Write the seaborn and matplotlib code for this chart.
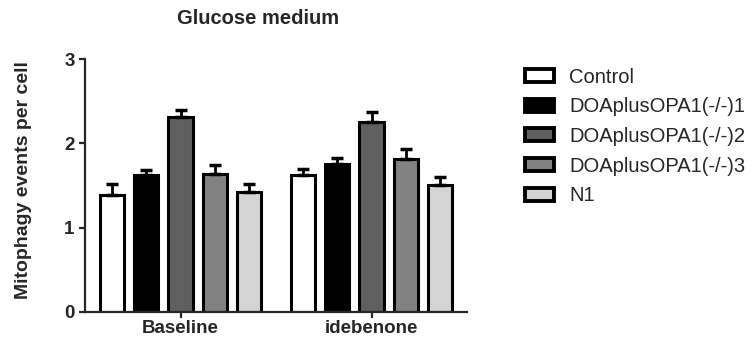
import pandas as pd
import numpy as np
import seaborn as sns
import matplotlib.pyplot as plt

# values
conditions = ['Baseline', 'idebenone']
cell_lines = ['Control', 'DOAplusOPA1(-/-)1', 'DOAplusOPA1(-/-)2', 'DOAplusOPA1(-/-)3', 'N1']
baseline_means = [1.39, 1.63, 2.31, 1.64, 1.42]
baseline_sem = [0.13, 0.05, 0.09, 0.10, 0.10]
idebenone_means = [1.62, 1.76, 2.25, 1.82, 1.51]
idebenone_sem = [0.08, 0.07, 0.12, 0.11, 0.09]
bar_colors = ['#ffffff', '#000000', '#5f5f5f', '#828282', '#d4d4d4']

rows = []
for cond, means, sems in [('Baseline', baseline_means, baseline_sem),
                          ('idebenone', idebenone_means, idebenone_sem)]:
    for line, m, s in zip(cell_lines, means, sems):
        rows.append({'condition': cond, 'line': line, 'mean': m, 'sem': s})
df = pd.DataFrame(rows)

sns.set_style('ticks')
plt.rcParams['font.family'] = ['Liberation Sans', 'DejaVu Sans']

fig = plt.figure(figsize=(7.53, 3.4), dpi=100)
ax = fig.add_axes([85 / 753, 1 - 312 / 340, (467 - 85) / 753, (312 - 59) / 340])

sns.barplot(data=df, x='condition', y='mean', hue='line', order=conditions,
            hue_order=cell_lines, palette=bar_colors, width=0.9, gap=0.3,
            edgecolor='black', linewidth=2.2, errorbar=None, ax=ax)

# upper-only error bars on top of each bar (patches come hue level by hue level)
order_key = {v: i for i, v in enumerate(cell_lines + conditions)}
df_sorted = df.sort_values(by=['line', 'condition'], key=lambda c: c.map(order_key))
for patch, (_, r) in zip(ax.patches, df_sorted.iterrows()):
    xc = patch.get_x() + patch.get_width() / 2
    ax.errorbar(xc, r['mean'], yerr=[[0], [r['sem']]], fmt='none', ecolor='black',
                elinewidth=2, capsize=4, capthick=2.5, zorder=1)

ax.set_xlim(-0.5, 1.5)
ax.set_ylim(0, 3)
ax.set_yticks([0, 1, 2, 3])
ax.set_xlabel('')
ax.set_ylabel('Mitophagy events per cell', fontsize=14, fontweight='bold', labelpad=23)
ax.yaxis.label.set_y(0.52)
sns.despine(ax=ax)
for side in ['left', 'bottom']:
    ax.spines[side].set_linewidth(1.6)
ax.tick_params(axis='both', width=1.6, length=4, labelsize=13.5)
ax.tick_params(axis='x', pad=2)
for lbl in ax.get_xticklabels() + ax.get_yticklabels():
    lbl.set_fontweight('bold')

fig.text(258 / 753, 1 - 19 / 340, 'Glucose medium', ha='center', va='center',
         fontsize=14.5, fontweight='bold')

leg = ax.legend(loc='upper left', bbox_to_anchor=(1.115, 1.022), frameon=False,
                fontsize=14.5, handlelength=1.45, handleheight=0.62,
                labelspacing=0.53, handletextpad=0.75, borderaxespad=0.3)
for h in leg.legend_handles:
    h.set_linewidth(2.8)
    h.set_edgecolor('black')

fig.savefig('out.png', dpi=100)
